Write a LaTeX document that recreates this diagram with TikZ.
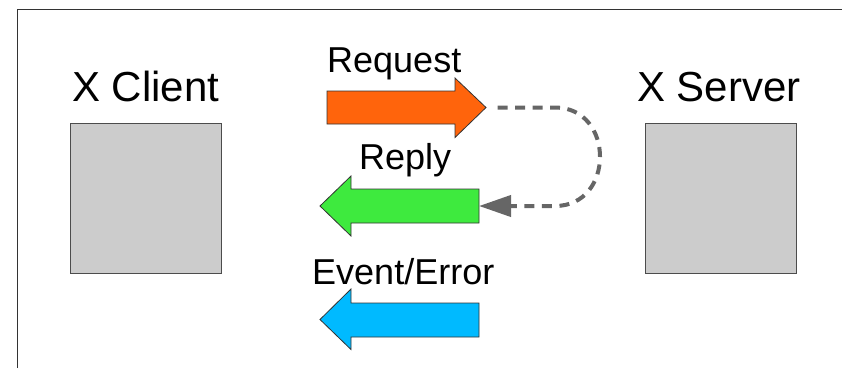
\documentclass[tikz,border=0pt]{standalone}
\usepackage{fontspec}
\setmainfont{Liberation Sans}
\usetikzlibrary{arrows.meta}
\definecolor{reqorange}{RGB}{255,100,12}
\definecolor{replygreen}{RGB}{62,234,62}
\definecolor{evblue}{RGB}{0,186,255}
\definecolor{boxgray}{RGB}{204,204,204}
\definecolor{dashgray}{RGB}{102,102,102}
\tikzset{
  hostbox/.style={draw=black!70, fill=boxgray, line width=1pt, minimum width=151pt, minimum height=150pt, inner sep=0pt},
  biglabel/.style={anchor=base west, inner sep=0pt, font=\fontsize{42pt}{50pt}\selectfont},
  msglabel/.style={anchor=base west, inner sep=0pt, font=\fontsize{36pt}{43pt}\selectfont},
  fatarrow/.style={draw=black!80, line width=0.8pt, line join=miter},
  loopline/.style={draw=dashgray, line width=4pt, dash pattern=on 10pt off 7.5pt, dash phase=10pt}
}
\begin{document}
\begin{tikzpicture}[x=1pt,y=-1pt]
\useasboundingbox (0,0) rectangle (842,368);
% frame
\draw[black!80, line width=1pt] (17.5,368) -- (17.5,9.5) -- (842,9.5);
% hosts
\node[hostbox] (client) at (145.5,198) {};
\node[hostbox] (server) at (720.5,198.5) {};
\node[biglabel] (clientlbl) at (72,101) {X Client};
\node[biglabel] (serverlbl) at (637,101) {X Server};
% request arrow
\coordinate (reqtip) at (486,107.5);
\fill[reqorange] (327,91) -- (455,91) -- (455,78) -- (reqtip) -- (455,137.5) -- (455,124) -- (327,124) -- cycle;
\path[fatarrow] (327,91) -- (455,91) -- (455,78) -- (reqtip) -- (455,137.5) -- (455,124) -- (327,124) -- cycle;
\node[msglabel] (reqlbl) at (327,72) {Request};
% reply arrow
\coordinate (replytail) at (479,206);
\path[fatarrow, fill=replygreen] (479,189) -- (351,189) -- (351,176) -- (320,206) -- (351,236) -- (351,223) -- (479,223) -- cycle;
\node[msglabel] (replylbl) at (359,169) {Reply};
% event arrow
\path[fatarrow, fill=evblue] (479,303) -- (351,303) -- (351,289) -- (320,319.5) -- (351,349.5) -- (351,337) -- (479,337) -- cycle;
\node[msglabel] (evlbl) at (312,284) {Event/Error};
% loop connector
\draw[loopline, -{Triangle[length=32pt,width=21pt]}] ([xshift=4pt]reqtip) -- (555,107.5) .. controls (615,107.5) and (615,206) .. (555,206) -- (replytail);
\end{tikzpicture}
\end{document}
